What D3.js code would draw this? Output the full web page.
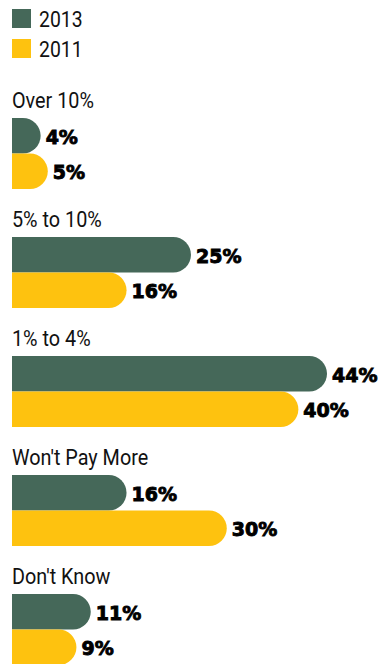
<!DOCTYPE html>
<html>
<head>
<meta charset="utf-8">
<script src="https://cdn.jsdelivr.net/npm/d3@7/dist/d3.min.js"></script>
<style>
  body { margin: 0; background: #fff; }
  svg { display: block; }
</style>
</head>
<body>
<svg id="chart"></svg>
<script>
const width = 383;
const height = 664;

// data
const categories = ["Over 10%", "5% to 10%", "1% to 4%", "Won't Pay More", "Don't Know"];
const series = ["2013", "2011"];
const values2013 = [4, 25, 44, 16, 11];
const values2011 = [5, 16, 40, 30, 9];
const colors = { "2013": "#456859", "2011": "#fec20f" };

const svg = d3.select("#chart")
  .attr("width", width)
  .attr("height", height);

const labelFont = "Roboto, sans-serif";
const valueFont = "'DejaVu Sans', sans-serif";
const squeeze = 0.88; // condensed look for the labels

// narrow text helper: scale horizontally around its left edge
function narrowText(sel, x0, y0, size, txt) {
  return sel.append("text")
    .attr("transform", `translate(${x0},${y0}) scale(${squeeze},1)`)
    .attr("font-family", labelFont)
    .attr("font-size", size)
    .attr("fill", "#111")
    .text(txt);
}

// legend
series.forEach((s, i) => {
  svg.append("rect")
    .attr("x", 12)
    .attr("y", 9 + i * 30)
    .attr("width", 19)
    .attr("height", 19)
    .attr("fill", colors[s]);
  narrowText(svg, 39, 27 + i * 30, 22, s);
});

const x = d3.scaleLinear().domain([0, 44]).range([12, 327]);
const y = d3.scaleBand().domain(categories).range([118, 118 + 119 * categories.length]);
const barH = 35.5;

function barPath(x0, x1, top, h) {
  const r = Math.min(h / 2, (x1 - x0));
  return `M${x0},${top}H${x1 - r}A${r},${r} 0 0 1 ${x1},${top + r}V${top + h - r}A${r},${r} 0 0 1 ${x1 - r},${top + h}H${x0}Z`;
}

const rows = categories.map((c, i) => ({ cat: c, vals: [values2013[i], values2011[i]] }));

const g = svg.selectAll("g.row")
  .data(rows)
  .join("g")
  .attr("class", "row");

g.each(function(d) {
  const row = d3.select(this);
  narrowText(row, 12, y(d.cat) - 10, 22.5, d.cat);
  d.vals.forEach((v, i) => {
    const top = y(d.cat) + i * barH;
    row.append("path")
      .attr("d", barPath(x(0), x(v), top, barH))
      .attr("fill", colors[series[i]]);
    row.append("text")
      .attr("x", x(v) + 5)
      .attr("y", top + barH / 2 + 8)
      .attr("font-family", valueFont)
      .attr("font-weight", "bold")
      .attr("font-size", 19)
      .attr("fill", "#000")
      .attr("stroke", "#000")
      .attr("stroke-width", 0.9)
      .text(v + "%");
  });
});
</script>
</body>
</html>
